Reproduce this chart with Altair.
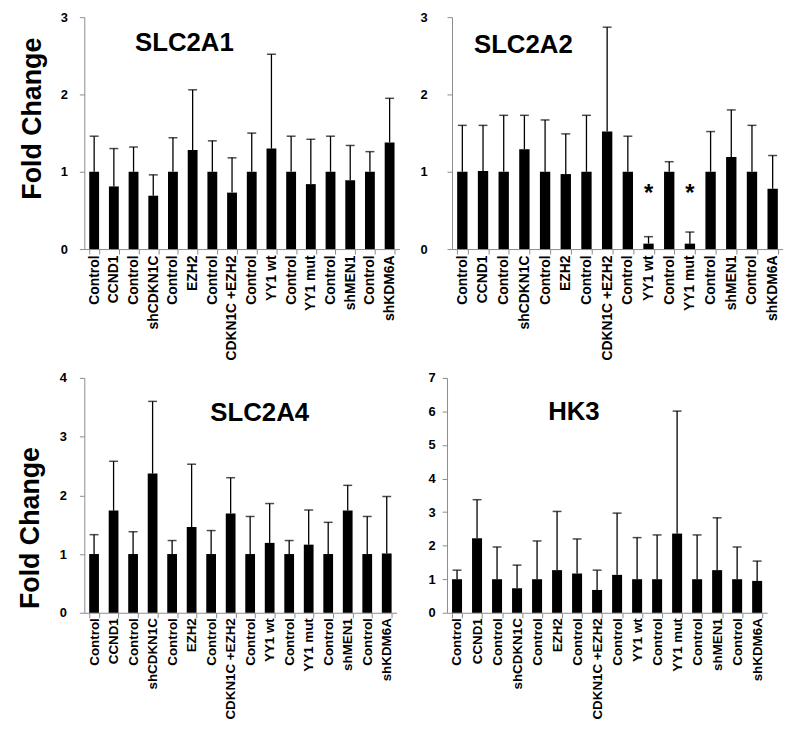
import json
import pandas as pd
import altair as alt

labels = ["Control", "CCND1", "Control", "shCDKN1C", "Control", "EZH2", "Control",
          "CDKN1C +EZH2", "Control", "YY1 wt", "Control", "YY1 mut", "Control",
          "shMEN1", "Control", "shKDM6A"]

slc2a1_val = [1.0, 0.81, 1.0, 0.69, 1.0, 1.28, 1.0, 0.73, 1.0, 1.30, 1.0, 0.84, 1.0, 0.89, 1.0, 1.38]
slc2a1_err = [1.46, 1.30, 1.32, 0.96, 1.44, 2.06, 1.40, 1.18, 1.50, 2.52, 1.46, 1.42, 1.46, 1.34, 1.26, 1.95]

slc2a2_val = [1.0, 1.01, 1.0, 1.29, 1.0, 0.97, 1.0, 1.52, 1.0, 0.07, 1.0, 0.07, 1.0, 1.19, 1.0, 0.78]
slc2a2_err = [1.60, 1.60, 1.73, 1.73, 1.67, 1.49, 1.73, 2.87, 1.46, 0.16, 1.13, 0.22, 1.52, 1.80, 1.60, 1.21]

slc2a4_val = [1.0, 1.74, 1.0, 2.37, 1.0, 1.46, 1.0, 1.69, 1.0, 1.19, 1.0, 1.16, 1.0, 1.74, 1.0, 1.01]
slc2a4_err = [1.33, 2.58, 1.38, 3.60, 1.23, 2.53, 1.40, 2.30, 1.64, 1.86, 1.23, 1.75, 1.54, 2.17, 1.64, 1.98]

hk3_val = [1.0, 2.22, 1.0, 0.73, 1.0, 1.27, 1.17, 0.68, 1.13, 1.0, 1.0, 2.36, 1.0, 1.27, 1.0, 0.95]
hk3_err = [1.27, 3.37, 1.96, 1.42, 2.14, 3.02, 2.20, 1.27, 2.97, 2.24, 2.32, 6.01, 2.32, 2.83, 1.96, 1.54]

star_pos = [9, 11]
star_y = [0.62, 0.62]

FONT = "Liberation Sans"
label_expr = json.dumps(labels) + "[datum.value]"


def panel(name, vals, errs, ymax, width, height, title_xy, label_pad, ytitle, title_pad,
          title_y=None, xlabel_pad=1, xlabel_size=14, stars=None):
    df = pd.DataFrame({"pos": list(range(len(labels))), "value": vals, "err": errs})
    xaxis = alt.Axis(labelExpr=label_expr, labelAngle=-90, labelFont=FONT,
                     labelFontSize=xlabel_size, labelFontWeight="bold", labelColor="black",
                     labelPadding=xlabel_pad, tickBand="extent", tickSize=5,
                     tickColor="#8c8c8c", domainColor="#8c8c8c", labelLimit=300)
    xenc = alt.X("pos:O", title=None,
                 scale=alt.Scale(paddingInner=0.5, paddingOuter=0.25), axis=xaxis)
    yaxis_kw = dict(values=list(range(ymax + 1)), format="d", labelOverlap=False, grid=False,
                    labelFont=FONT, labelFontSize=13,
                    labelFontWeight="bold", labelColor="black", labelPadding=label_pad,
                    tickSize=5, tickColor="#8c8c8c", domainColor="#8c8c8c")
    if ytitle:
        yaxis_kw.update(title="Fold Change", titleFont=FONT, titleFontSize=27,
                        titleFontWeight="bold", titleColor="black", titlePadding=title_pad)
        if title_y is not None:
            yaxis_kw.update(titleY=title_y)
    else:
        yaxis_kw.update(title=None)
    yaxis = alt.Axis(**yaxis_kw)
    yscale = alt.Scale(domain=[0, ymax], nice=False)
    base = alt.Chart(df)
    bars = base.mark_bar(color="black").encode(
        x=xenc, y=alt.Y("value:Q", scale=yscale, axis=yaxis))
    rule = base.mark_rule(color="black", strokeWidth=1.3).encode(
        x=alt.X("pos:O", axis=xaxis, title=None),
        y=alt.Y("value:Q", scale=yscale, axis=yaxis), y2="err:Q")
    cap = base.mark_tick(color="black", thickness=1.5, size=9, orient="horizontal").encode(
        x=alt.X("pos:O", axis=xaxis, title=None),
        y=alt.Y("err:Q", scale=yscale, axis=yaxis))
    tdf = pd.DataFrame({"t": [name]})
    ttl = alt.Chart(tdf).mark_text(font=FONT, fontSize=26, fontWeight="bold", color="black",
                                   align="center", baseline="middle").encode(
        text="t:N", x=alt.value(title_xy[0]), y=alt.value(title_xy[1]))
    layers = [bars, rule, cap, ttl]
    if stars is not None:
        sdf = pd.DataFrame({"pos": stars[0], "y": stars[1], "s": ["*"] * len(stars[0])})
        st = alt.Chart(sdf).mark_text(font=FONT, fontSize=24, fontWeight="bold", color="black",
                                      baseline="alphabetic").encode(
            x=alt.X("pos:O", axis=xaxis, title=None),
            y=alt.Y("y:Q", scale=yscale, axis=yaxis), text="s:N")
        layers.append(st)
    return alt.layer(*layers).properties(width=width, height=height)


p1 = panel("SLC2A1", slc2a1_val, slc2a1_err, 3, 318, 234, (101, 26), 12, True, 14,
           title_y=102)
p2 = panel("SLC2A2", slc2a2_val, slc2a2_err, 3, 334, 234, (72, 28), 20, False, 0,
           stars=(star_pos, star_y))
p3 = panel("SLC2A4", slc2a4_val, slc2a4_err, 4, 315, 237, (177, 36), 13, True, 15,
           title_y=151, xlabel_pad=0, xlabel_size=13.5)
p4 = panel("HK3", hk3_val, hk3_err, 7, 323, 237, (128, 34), 7, False, 0, xlabel_pad=0,
           xlabel_size=13.5)

top = alt.hconcat(p1, p2, spacing=20)
bottom = alt.hconcat(p3, p4, spacing=31)
chart = alt.vconcat(top, bottom, spacing=11).properties(
    padding={"left": 8, "top": 0, "right": 0, "bottom": 0}
).configure_view(stroke=None)

chart.save("out.html", embed_options={"renderer": "svg", "actions": False})
